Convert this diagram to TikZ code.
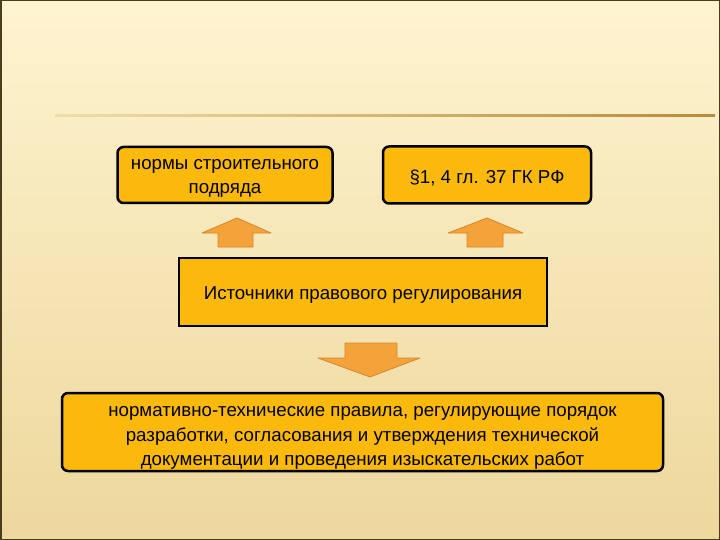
\documentclass[tikz,border=0pt]{standalone}
\usepackage{fontspec}
\setmainfont{Liberation Sans}
\definecolor{bgtop}{HTML}{FEF4D0}
\definecolor{bgbot}{HTML}{EDD79C}
\definecolor{boxfill}{HTML}{FBBA0B}
\definecolor{arrfill}{HTML}{F4A23A}
\definecolor{arrline}{HTML}{D8862A}
\definecolor{frame}{HTML}{4A3C1C}
\definecolor{rulel}{HTML}{F2DDA8}
\definecolor{ruler}{HTML}{B88A40}
\tikzset{
  rbox/.style={draw=black, fill=boxfill, line width=2.5pt, rounded corners=6pt, inner sep=0pt},
  sbox/.style={draw=black, fill=boxfill, line width=2.8pt, inner sep=0pt},
  blockarrow/.style={fill=arrfill, draw=arrline, line width=0.8pt, line join=round},
  txt/.style={font=\fontsize{18.7}{24.5}\selectfont, align=center, inner sep=0pt}
}
\begin{document}
\begin{tikzpicture}[x=1pt,y=-1pt]
\useasboundingbox (0,0) rectangle (720,540);
\shade[top color=bgtop, bottom color=bgbot] (0,0) rectangle (720,540);
\draw[frame, line width=1.5pt] (0.75,0.75) rectangle (719.25,539.25);
\shade[left color=rulel, right color=ruler] (55,114.3) rectangle (715,116.3);
% boxes
\node[rbox, minimum width=215pt, minimum height=56pt] (norm) at (225,175) {};
\node[txt, yshift=-3.5pt] (normt) at (norm.center) {нормы строительного\\подряда};
\node[rbox, minimum width=208pt, minimum height=57pt] (gk) at (487,175) {};
\node[txt, yshift=-3pt] (gkt) at (gk.center) {§1, 4 гл. 37 ГК РФ};
\node[sbox, minimum width=368pt, minimum height=68pt] (src) at (363,292) {};
\node[txt, yshift=-3pt] (srct) at (src.center) {Источники правового регулирования};
\node[rbox, minimum width=601pt, minimum height=78pt] (tech) at (362.5,432) {};
\node[txt, yshift=-6pt] (techt) at (tech.center) {нормативно-технические правила, регулирующие порядок\\разработки, согласования и утверждения технической\\документации и проведения изыскательских работ};
% block arrows
\path[blockarrow] (237,218) -- (271,233) -- (253,233) -- (253,247) -- (218,247) -- (218,233) -- (202,233) -- cycle;
\path[blockarrow] (487,218) -- (523,233) -- (503,233) -- (503,247) -- (467,247) -- (467,233) -- (448,233) -- cycle;
\path[blockarrow] (345,343) -- (397,343) -- (397,358) -- (420,358) -- (370,377) -- (318,358) -- (345,358) -- cycle;
\end{tikzpicture}
\end{document}
